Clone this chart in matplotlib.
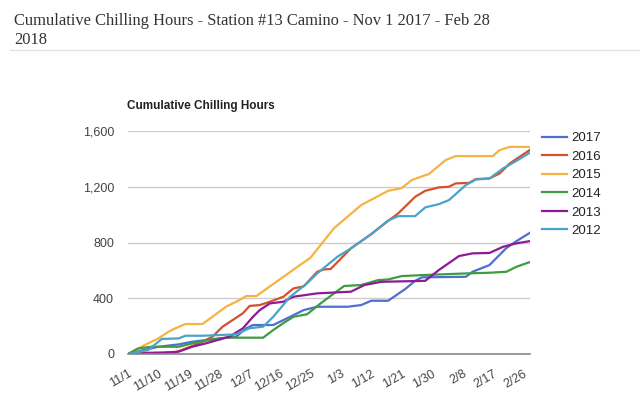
import matplotlib
matplotlib.use("Agg")
import matplotlib.pyplot as plt
import matplotlib.ticker as mticker

# days since Nov 1 and cumulative chilling hours
days_2017 = [0, 4, 9, 15, 19, 23, 27, 32, 35, 37, 43, 44, 48, 52, 56, 65, 69, 72, 77, 82, 85, 87, 100, 102, 107, 112, 115, 119]
hrs_2017 = [0, 25, 52, 69, 88, 100, 112, 124, 184, 208, 208, 220, 267, 315, 339, 339, 351, 382, 382, 465, 525, 550, 554, 590, 638, 760, 810, 870]

days_2016 = [0, 4, 7, 14, 16, 21, 25, 28, 31, 34, 36, 39, 42, 46, 49, 52, 56, 58, 60, 66, 72, 77, 80, 85, 88, 92, 95, 97, 101, 103, 107, 110, 113, 119]
hrs_2016 = [0, 8, 10, 12, 29, 76, 124, 196, 244, 292, 345, 351, 375, 411, 471, 485, 590, 607, 610, 758, 860, 955, 1009, 1128, 1171, 1195, 1200, 1224, 1228, 1255, 1260, 1295, 1367, 1465]

days_2015 = [0, 5, 9, 12, 14, 17, 22, 25, 29, 33, 35, 38, 51, 54, 61, 69, 77, 81, 84, 88, 89, 94, 97, 108, 110, 113, 119]
hrs_2015 = [0, 65, 112, 160, 184, 215, 215, 267, 339, 387, 416, 416, 640, 690, 903, 1068, 1171, 1190, 1248, 1283, 1290, 1391, 1420, 1420, 1463, 1486, 1486]

days_2014 = [0, 3, 7, 15, 19, 24, 29, 40, 43, 46, 49, 53, 57, 61, 64, 69, 74, 77, 81, 87, 100, 107, 112, 115, 119]
hrs_2014 = [0, 40, 52, 52, 76, 100, 117, 117, 172, 222, 267, 285, 363, 435, 488, 495, 530, 535, 559, 566, 578, 583, 590, 626, 660]

days_2013 = [0, 5, 10, 15, 19, 23, 30, 34, 37, 39, 42, 46, 49, 56, 66, 70, 75, 88, 92, 98, 102, 107, 111, 115, 119]
hrs_2013 = [0, 5, 8, 17, 52, 76, 124, 184, 267, 315, 363, 375, 411, 435, 447, 495, 518, 525, 602, 703, 722, 725, 769, 794, 810]

days_2012 = [0, 6, 9, 10, 15, 17, 22, 32, 36, 40, 43, 48, 53, 56, 62, 66, 72, 77, 80, 85, 88, 92, 95, 100, 103, 107, 111, 115, 119]
hrs_2012 = [0, 29, 88, 108, 112, 131, 131, 141, 185, 196, 267, 411, 507, 578, 698, 758, 860, 958, 989, 989, 1052, 1075, 1104, 1212, 1252, 1259, 1331, 1386, 1445]

years = ["2017", "2016", "2015", "2014", "2013", "2012"]
colors = ["#4d6fd0", "#d4512e", "#f5b342", "#3f9c3f", "#8e1a94", "#4aa3c8"]
series = [(days_2017, hrs_2017), (days_2016, hrs_2016), (days_2015, hrs_2015),
          (days_2014, hrs_2014), (days_2013, hrs_2013), (days_2012, hrs_2012)]

tick_days = [0, 9, 18, 27, 36, 45, 54, 63, 72, 81, 90, 99, 108, 117]
tick_labels = ["11/1", "11/10", "11/19", "11/28", "12/7", "12/16", "12/25",
               "1/3", "1/12", "1/21", "1/30", "2/8", "2/17", "2/26"]

plt.rcParams["font.family"] = ["Liberation Sans", "DejaVu Sans"]

fig = plt.figure(figsize=(6.4, 4.01), dpi=100)
W, H = 640, 401

# page heading
fig.text(14 / W, 1 - 21 / H, "Cumulative Chilling Hours - Station #13 Camino - Nov 1 2017 - Feb 28",
         family="Liberation Serif", fontsize=11.9, color="#333333", va="center", ha="left")
fig.text(14 / W, 1 - 40 / H, "2018",
         family="Liberation Serif", fontsize=11.9, color="#333333", va="center", ha="left")
fig.add_artist(plt.Line2D([10 / W, 1], [1 - 50 / H, 1 - 50 / H], color="#e3e3e3", lw=1))

ax = fig.add_axes([128 / W, 1 - 354 / H, 402 / W, 223 / H])
for (d, h), c, y in zip(series, colors, years):
    ax.plot(d, h, color=c, lw=1.6, label=y, solid_joinstyle="round")

ax.set_xlim(0, 119)
ax.set_ylim(0, 1600)
ax.set_yticks([0, 400, 800, 1200, 1600])
ax.yaxis.set_major_formatter(mticker.FuncFormatter(lambda v, p: f"{int(v):,}"))
ax.set_xticks(tick_days)
ax.set_xticklabels(tick_labels, rotation=30, ha="right", rotation_mode="anchor")
ax.tick_params(axis="both", length=0, labelsize=9, labelcolor="#444444")
ax.tick_params(axis="x", pad=10)
ax.tick_params(axis="y", pad=10)
ax.grid(axis="y", color="#cccccc", lw=1)
ax.set_axisbelow(True)
for s in ["top", "right", "left"]:
    ax.spines[s].set_visible(False)
ax.spines["bottom"].set_color("#888888")
ax.spines["bottom"].set_linewidth(1.2)

fig.text(127 / W, 1 - 106 / H, "Cumulative Chilling Hours", fontsize=8.5, fontweight="bold",
         color="#222222", va="center", ha="left")

ax.legend(loc="upper left", bbox_to_anchor=(542 / W, 1 - 132 / H), bbox_transform=fig.transFigure,
          frameon=False, fontsize=9.5, handlelength=1.9, handletextpad=0.3,
          labelspacing=0.48, borderpad=0, borderaxespad=0, labelcolor="#222222")

fig.savefig("out.png", dpi=100)
